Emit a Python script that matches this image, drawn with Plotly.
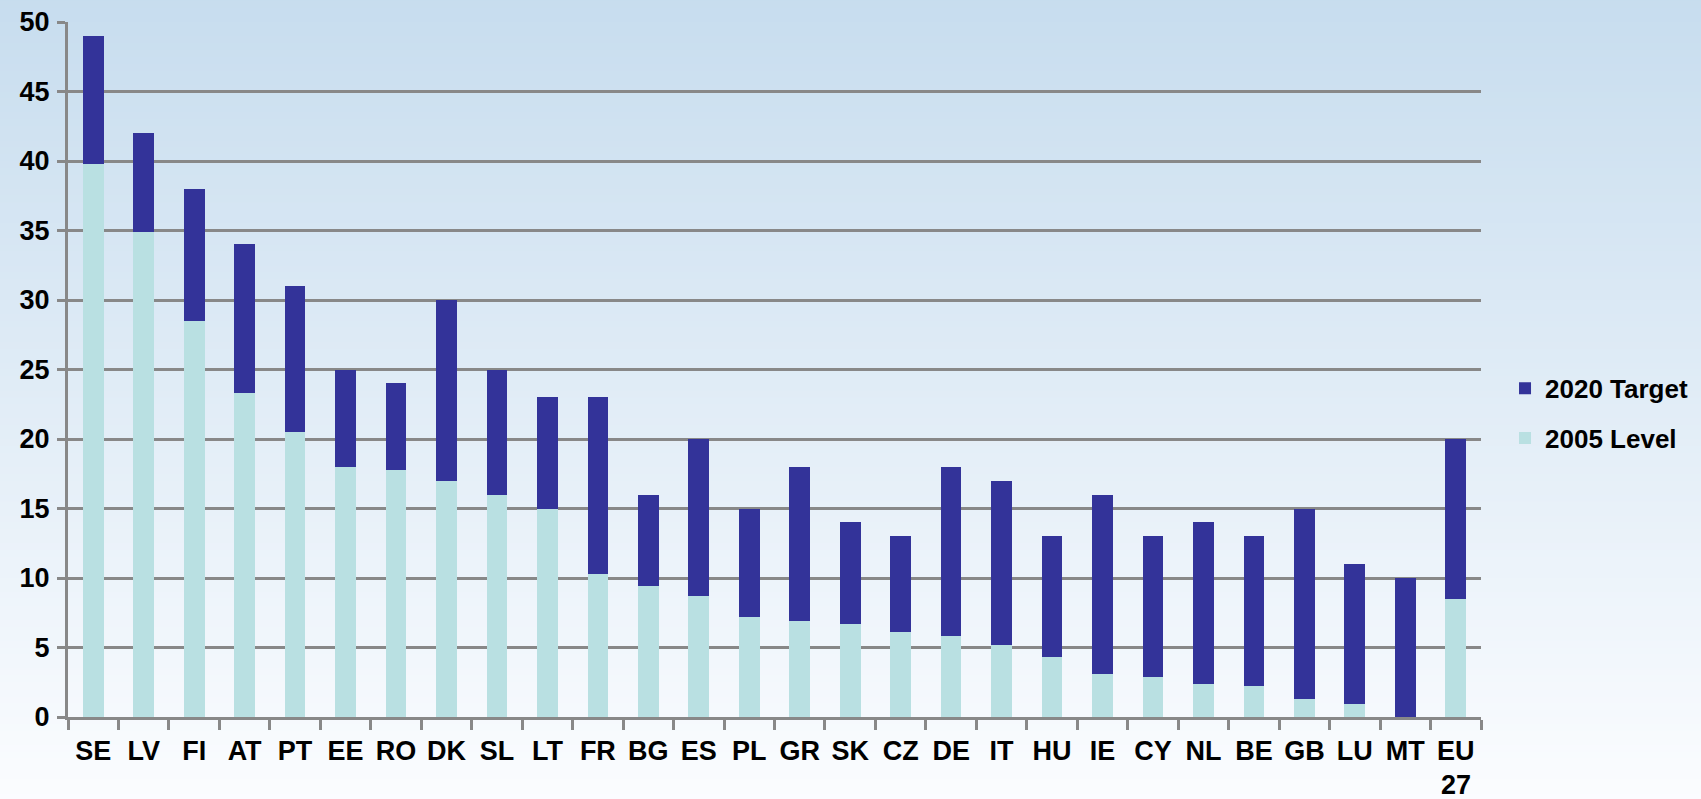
import plotly.graph_objects as go

countries = ["SE", "LV", "FI", "AT", "PT", "EE", "RO", "DK", "SL", "LT", "FR", "BG", "ES", "PL",
             "GR", "SK", "CZ", "DE", "IT", "HU", "IE", "CY", "NL", "BE", "GB", "LU", "MT", "EU27"]
tick_labels = ["SE", "LV", "FI", "AT", "PT", "EE", "RO", "DK", "SL", "LT", "FR", "BG", "ES", "PL",
               "GR", "SK", "CZ", "DE", "IT", "HU", "IE", "CY", "NL", "BE", "GB", "LU", "MT", "EU"]
level_2005 = [39.8, 34.9, 28.5, 23.3, 20.5, 18.0, 17.8, 17.0, 16.0, 15.0, 10.3, 9.4, 8.7, 7.2,
              6.9, 6.7, 6.1, 5.8, 5.2, 4.3, 3.1, 2.9, 2.4, 2.2, 1.3, 0.9, 0.0, 8.5]
target_2020 = [49, 42, 38, 34, 31, 25, 24, 30, 25, 23, 23, 16, 20, 15,
               18, 14, 13, 18, 17, 13, 16, 13, 14, 13, 15, 11, 10, 20]
y_ticks = [0, 5, 10, 15, 20, 25, 30, 35, 40, 45, 50]

gap_to_target = [t - l for t, l in zip(target_2020, level_2005)]

FONT = "Liberation Sans, Arial, sans-serif"
DARK = "#333399"
LIGHT = "#b9e0e2"
GRID = "#888888"

fig = go.Figure()
fig.add_trace(go.Bar(x=countries, y=level_2005, name="2005 Level", marker_color=LIGHT,
                     marker_line_width=0, legendgroup="a", legendrank=2))
fig.add_trace(go.Bar(x=countries, y=gap_to_target, name="2020 Target", marker_color=DARK,
                     marker_line_width=0, legendgroup="b", legendrank=1))

# vertical background gradient
shapes = []
n = 120
y0, y1 = -0.14, 1.06
top = (198, 220, 238)
bot = (252, 253, 255)
for i in range(n):
    a = y0 + (y1 - y0) * i / n
    b = y0 + (y1 - y0) * (i + 1) / n + 0.002
    f = 1 - ((a + b) / 2 - y0) / (y1 - y0)
    c = tuple(round(top[k] + (bot[k] - top[k]) * f) for k in range(3))
    shapes.append(dict(type="rect", xref="paper", yref="paper", x0=-0.1, x1=1.3, y0=a, y1=b,
                       fillcolor="rgb(%d,%d,%d)" % c, line_width=0, layer="below"))

fig.update_layout(
    width=1701, height=799,
    margin=dict(l=68, r=220, t=22, b=82, autoexpand=False),
    barmode="stack", bargap=0.59,
    paper_bgcolor="rgba(0,0,0,0)", plot_bgcolor="rgba(0,0,0,0)",
    shapes=shapes,
    font=dict(family=FONT, size=26, color="black", weight="bold"),
    showlegend=True,
    legend=dict(x=1.017, xanchor="left", y=0.437, yanchor="middle",
                traceorder="grouped", tracegroupgap=13,
                font=dict(family=FONT, size=26, color="black", weight="bold"),
                bgcolor="rgba(0,0,0,0)"),
    xaxis=dict(type="category", tickmode="array", tickvals=countries, ticktext=tick_labels,
               tickangle=0, automargin=False, ticklabelstandoff=8,
               showline=True, linecolor=GRID, linewidth=3, ticks="outside", tickson="boundaries",
               ticklen=10, tickwidth=3, tickcolor=GRID, showgrid=False,
               tickfont=dict(family=FONT, size=27, color="black", weight="bold")),
    yaxis=dict(range=[0, 50], tickvals=y_ticks, showgrid=True, gridcolor=GRID, gridwidth=3,
               automargin=False,
               showline=True, linecolor=GRID, linewidth=3, ticks="outside", ticklen=8,
               tickwidth=3, tickcolor=GRID, zeroline=False, ticklabelstandoff=2,
               tickfont=dict(family=FONT, size=27, color="black", weight="bold")),
)

fig.add_annotation(x="EU27", xref="x", y=-0.098, yref="paper", text="27", showarrow=False,
                   yanchor="middle", borderpad=0, height=22,
                   font=dict(family=FONT, size=27, color="black", weight="bold"))

fig.write_html("out.html", config={"displayModeBar": False},
               post_script="document.body.style.margin='0';document.body.style.overflow='hidden';")
